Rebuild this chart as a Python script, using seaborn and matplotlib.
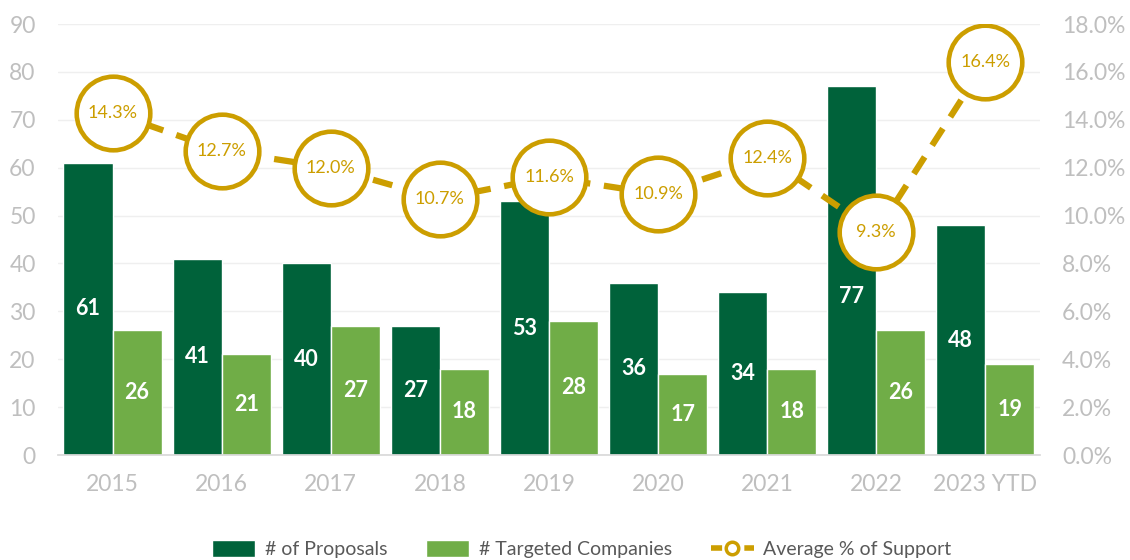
import numpy as np
import pandas as pd
import matplotlib
matplotlib.use("Agg")
import matplotlib.pyplot as plt
from matplotlib.lines import Line2D
from matplotlib.patches import Patch
import seaborn as sns

years = ["2015", "2016", "2017", "2018", "2019", "2020", "2021", "2022", "2023 YTD"]
proposals = [61, 41, 40, 27, 53, 36, 34, 77, 48]
targeted = [26, 21, 27, 18, 28, 17, 18, 26, 19]
avg_support = [14.3, 12.7, 12.0, 10.7, 11.6, 10.9, 12.4, 9.3, 16.4]

DARK = "#00623A"
LIGHT = "#70AD47"
GOLD = "#CC9E00"
TICK = "#BFBFBF"
TEXT = "#595959"

sns.set_theme(style="white")
plt.rcParams["font.family"] = ["Lato", "DejaVu Sans"]

df = pd.DataFrame({
    "year": years * 2,
    "count": proposals + targeted,
    "series": ["# of Proposals"] * len(years) + ["# Targeted Companies"] * len(years),
})

fig = plt.figure(figsize=(11.3, 5.6), dpi=100)
ax = fig.add_axes([0.0513, 0.1875, 0.8690, 0.7696])

sns.barplot(data=df, x="year", y="count", hue="series", order=years,
            palette=[DARK, LIGHT], width=0.9, saturation=1, ax=ax, legend=False)

# value labels centred in each bar; the tallest bar's label sits a little
# lower so it stays clear of the support marker above it
peak = int(np.argmax(proposals))
for k, cont in enumerate(ax.containers):
    for i, (bar, val) in enumerate(zip(cont, cont.datavalues)):
        frac = 0.43 if (k == 0 and i == peak) else 0.5
        ax.text(bar.get_x() + bar.get_width() / 2, val * frac, f"{val:.0f}",
                ha="center", va="center", color="white", fontsize=15.5,
                fontweight="bold")

ax.set_ylim(0, 90)
ax.set_xlim(-0.5, len(years) - 0.5)
ax.set_yticks(np.arange(0, 91, 10))
ax.grid(axis="y", color="#EFEFEF", linewidth=1)
ax.set_axisbelow(True)
ax.set_xlabel("")
ax.set_ylabel("")
for s in ["top", "right", "left"]:
    ax.spines[s].set_visible(False)
ax.spines["bottom"].set_color("#D9D9D9")
ax.tick_params(axis="y", colors=TICK, labelsize=16.5, length=0, pad=16)
ax.tick_params(axis="x", colors=TICK, labelsize=16.5, length=0, pad=14)

ax2 = ax.twinx()
ax2.set_ylim(0, 18)
ax2.set_yticks(np.arange(0, 18.1, 2))
ax2.set_yticklabels([f"{v:.1f}%" for v in np.arange(0, 18.1, 2)])
for s in ax2.spines.values():
    s.set_visible(False)
ax2.tick_params(axis="y", colors=TICK, labelsize=16.5, length=0, pad=16)

xpos = np.arange(len(years))
sns.lineplot(x=xpos, y=avg_support, ax=ax2, color=GOLD, linewidth=4.5,
             dashes=False, legend=False)
line = ax2.lines[-1]
line.set_dashes((3.2, 2.2))
line.set_dash_capstyle("butt")
ax2.plot(xpos, avg_support, linestyle="none", marker="o", markersize=53,
         markerfacecolor="white", markeredgecolor=GOLD, markeredgewidth=3.3)
for x, v in zip(xpos, avg_support):
    ax2.text(x, v, f"{v:.1f}%", ha="center", va="center", color=GOLD,
             fontsize=13)
ax2.set_xlim(-0.5, len(years) - 0.5)

handles = [
    Patch(facecolor=DARK, label="# of Proposals"),
    Patch(facecolor=LIGHT, label="# Targeted Companies"),
    Line2D([0], [0], color=GOLD, linewidth=4, linestyle=(0, (2.0, 1.0)),
           marker="o", markersize=9, markerfacecolor="white",
           markeredgecolor=GOLD, markeredgewidth=2.5,
           label="Average % of Support"),
]
leg = fig.legend(handles=handles, loc="lower center", ncol=3,
                 bbox_to_anchor=(0.515, -0.028), frameon=False, fontsize=14,
                 handlelength=2.2, handleheight=0.9, columnspacing=2.0,
                 handletextpad=0.5)
for t in leg.get_texts():
    t.set_color(TEXT)

fig.savefig("out.png", dpi=100, facecolor="white")
